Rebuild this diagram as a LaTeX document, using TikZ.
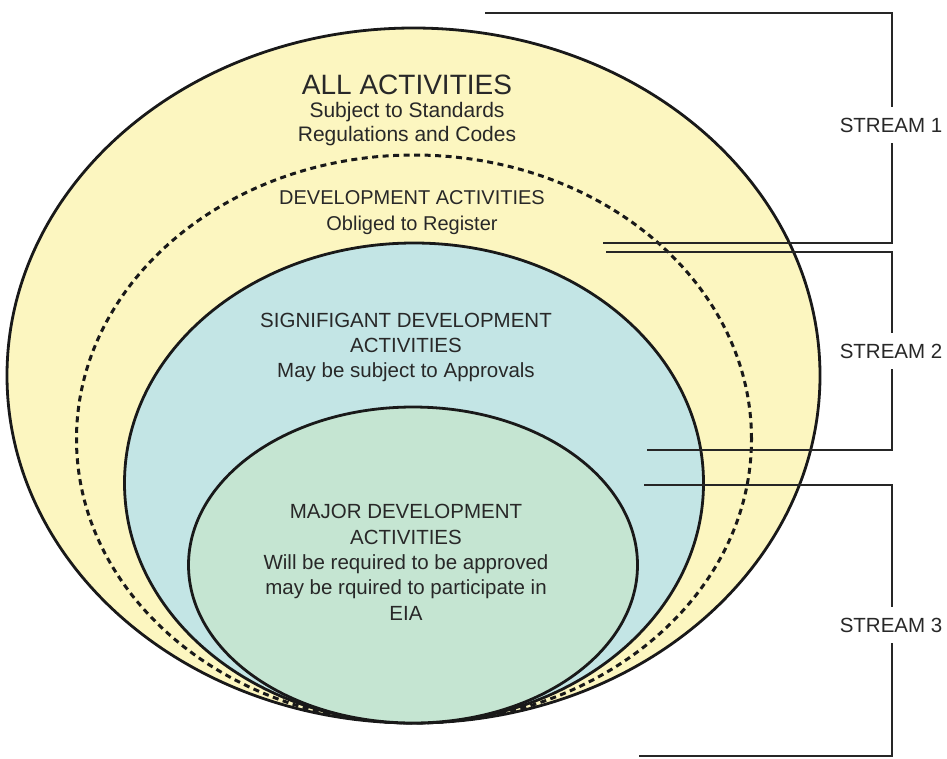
\documentclass[tikz,border=0pt]{standalone}
\usepackage{fontspec}
\setmainfont{Liberation Sans}
\definecolor{yel}{RGB}{252,246,192}
\definecolor{blu}{RGB}{195,229,229}
\definecolor{grn}{RGB}{197,229,210}
\definecolor{txt}{RGB}{40,40,40}
\begin{document}
\begin{tikzpicture}[x=1pt,y=-1pt,
  ell/.style={line width=2.8pt, draw=black!90},
  dashell/.style={line width=3pt, draw=black!90, dash pattern=on 6pt off 4.5pt},
  lbl/.style={font=\fontsize{20.5}{25.3}\selectfont, text=txt, align=center, anchor=base, inner sep=0pt},
  title/.style={font=\fontsize{28}{30}\selectfont, text=txt, anchor=base, inner sep=0pt},
  brk/.style={line width=2.6pt, draw=black!85},
  stream/.style={font=\fontsize{20.5}{24}\selectfont, text=txt, inner sep=0pt, minimum height=36pt}]
\useasboundingbox (0,0) rectangle (947,758);
\fill[white] (0,0) rectangle (947,758);
% nested ellipses
\filldraw[fill=yel, ell] (413.5,375.5) ellipse [x radius=406.5pt, y radius=347.5pt];
\draw[dashell] (414,439) ellipse [x radius=337.5pt, y radius=284pt];
\filldraw[fill=blu, ell] (414,483) ellipse [x radius=289.5pt, y radius=240pt];
\filldraw[fill=grn, ell] (413,565) ellipse [x radius=224.5pt, y radius=158pt];
% texts (anchor base = baseline of the last line)
\node[title] (t1) at (407,94) {ALL ACTIVITIES};
\node[lbl, font=\fontsize{21}{23.3}\selectfont] (t1s) at (407,141) {Subject to Standards\\Regulations and Codes};
\node[lbl, font=\fontsize{20}{26}\selectfont] (t2) at (412,230) {DEVELOPMENT ACTIVITIES\\Obliged to Register};
\node[lbl, font=\fontsize{20.5}{25}\selectfont] (t3) at (406,377) {SIGNIFIGANT DEVELOPMENT\\ACTIVITIES\\May be subject to Approvals};
\node[lbl] (t4) at (406,620) {MAJOR DEVELOPMENT\\ACTIVITIES\\Will be required to be approved\\may be rquired to participate in\\EIA};
% stream labels
\node[stream] (s1) at (891,125) {STREAM 1};
\node[stream] (s2) at (891,351) {STREAM 2};
\node[stream] (s3) at (891,625) {STREAM 3};
% bracket coordinates
\coordinate (s1a) at (485,13);  \coordinate (s1b) at (892,13);
\coordinate (s1c) at (892,243); \coordinate (s1d) at (603,243);
\coordinate (s2a) at (606,252); \coordinate (s2b) at (892,252);
\coordinate (s2c) at (892,450); \coordinate (s2d) at (647,450);
\coordinate (s3a) at (644,485); \coordinate (s3b) at (892,485);
\coordinate (s3c) at (892,756); \coordinate (s3d) at (639,756);
% brackets
\draw[brk] (s1a) -- (s1b) -- (s1b |- s1.north);
\draw[brk] (s1b |- s1.south) -- (s1c) -- (s1d);
\draw[brk] (s2a) -- (s2b) -- (s2b |- s2.north);
\draw[brk] (s2b |- s2.south) -- (s2c) -- (s2d);
\draw[brk] (s3a) -- (s3b) -- (s3b |- s3.north);
\draw[brk] (s3b |- s3.south) -- (s3c) -- (s3d);
\end{tikzpicture}
\end{document}
